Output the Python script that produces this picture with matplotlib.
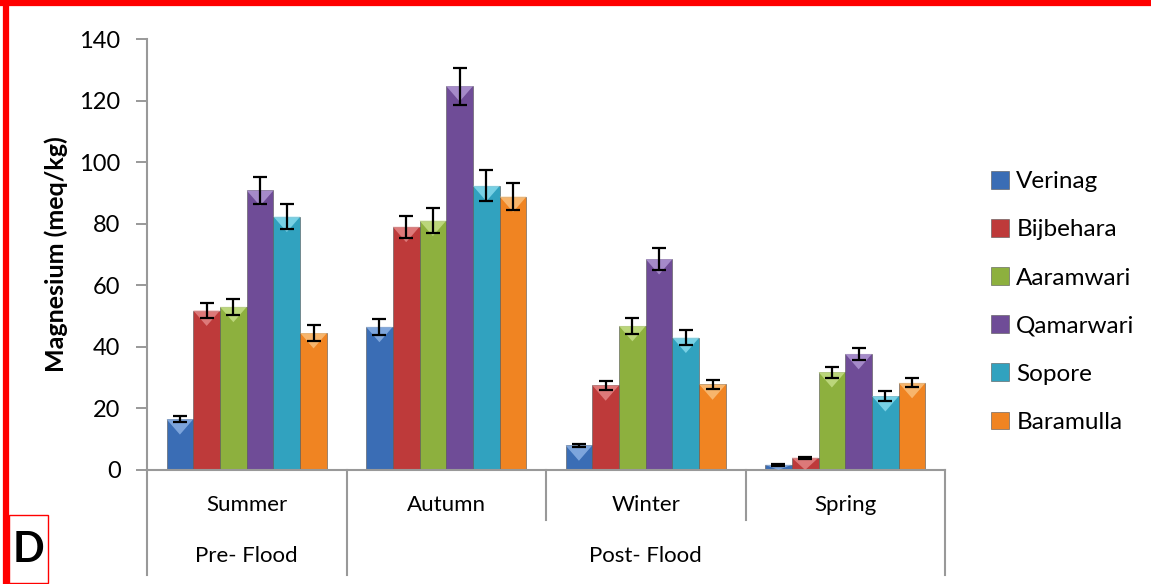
import numpy as np
import matplotlib
matplotlib.use("Agg")
import matplotlib.pyplot as plt
from matplotlib.patches import Rectangle, Polygon
from matplotlib.lines import Line2D

plt.rcParams['font.family'] = ['Lato', 'DejaVu Sans']

# data
seasons = ["Summer", "Autumn", "Winter", "Spring"]
periods = ["Pre- Flood", "Post- Flood"]
sites = ["Verinag", "Bijbehara", "Aaramwari", "Qamarwari", "Sopore", "Baramulla"]

verinag = [16.5, 46.5, 8.0, 1.7]
bijbehara = [51.8, 79.0, 27.5, 4.0]
aaramwari = [53.0, 81.0, 46.8, 31.8]
qamarwari = [90.8, 124.7, 68.5, 37.7]
sopore = [82.3, 92.3, 43.0, 24.0]
baramulla = [44.5, 88.8, 27.8, 28.3]

verinag_err = [1.0, 2.5, 0.5, 0.3]
bijbehara_err = [2.5, 3.5, 1.5, 0.3]
aaramwari_err = [2.5, 4.0, 2.5, 1.8]
qamarwari_err = [4.5, 6.0, 3.5, 2.0]
sopore_err = [4.0, 5.0, 2.5, 1.5]
baramulla_err = [2.5, 4.5, 1.5, 1.5]

values = [verinag, bijbehara, aaramwari, qamarwari, sopore, baramulla]
errors = [verinag_err, bijbehara_err, aaramwari_err, qamarwari_err, sopore_err, baramulla_err]
colors = ['#3A6DB5', '#BE3A3A', '#8DB03E', '#6F4C97', '#31A2BF', '#F08422']
tops = ['#8FB4E6', '#E58A8A', '#C7E08A', '#B39AD6', '#8ADCEE', '#F9C27F']

fig = plt.figure(figsize=(11.51, 5.84), dpi=100)
ax = fig.add_axes([147/1151, 114/584, 798/1151, 431/584])

x = np.arange(len(seasons))
w = 0.134
for i, (v, e) in enumerate(zip(values, errors)):
    pos = x + (i - 2.5) * w
    bars = ax.bar(pos, v, width=w, color=colors[i], edgecolor='#555555',
                  linewidth=0.4, label=sites[i], zorder=2)
    # small bevel triangle at the top of each bar
    for b in bars:
        bx, bw, bh = b.get_x(), b.get_width(), b.get_height()
        d = min(5.0, bh)
        ax.add_patch(Polygon([(bx, bh), (bx + bw, bh), (bx + bw/2, bh - d)],
                             closed=True, color=tops[i], alpha=0.8, zorder=3,
                             linewidth=0))
    ax.errorbar(pos, v, yerr=e, fmt='none', ecolor='black', elinewidth=1.6,
                capsize=5, capthick=1.6, zorder=4)

ax.set_xlim(-0.5, len(seasons) - 0.5)
ax.set_ylim(0, 140)
ax.set_yticks(np.arange(0, 141, 20))
ax.tick_params(axis='y', labelsize=17, color='#888888', length=8, width=1.2, pad=11)
ax.set_xticks([])
for s in ['top', 'right']:
    ax.spines[s].set_visible(False)
for s in ['left', 'bottom']:
    ax.spines[s].set_color('#999999')
    ax.spines[s].set_linewidth(1.5)
ax.set_ylabel("Magnesium (meq/kg)", fontsize=18, fontweight='bold', labelpad=8)

# two-level category axis
tr = ax.get_xaxis_transform()
for b in np.arange(len(seasons) + 1) - 0.5:
    low = -0.244 if b in (-0.5, 0.5, len(seasons) - 0.5) else -0.116
    ax.add_line(Line2D([b, b], [0, low], transform=tr, color='#999999',
                       linewidth=1.5, clip_on=False))
for xi, s in zip(x, seasons):
    ax.text(xi, -0.081, s, transform=tr, ha='center', va='center', fontsize=16)
ax.text(x[0], -0.2, periods[0], transform=tr, ha='center', va='center', fontsize=16)
ax.text(x[1:].mean(), -0.2, periods[1], transform=tr, ha='center', va='center', fontsize=16)

ax.legend(loc='center left', bbox_to_anchor=(1.03, 0.39), frameon=False,
          fontsize=17.5, handlelength=0.75, handleheight=0.75, handletextpad=0.3,
          labelspacing=1.1)

# red frame and panel letter
fig.add_artist(Line2D([0, 1], [1 - 3/584, 1 - 3/584], color='red', linewidth=4.5))
fig.add_artist(Line2D([6/1151, 6/1151], [0, 1], color='red', linewidth=4.5))
fig.add_artist(Rectangle((9/1151, 0.002), 39/1151, 68/584, fill=False,
                         edgecolor='red', linewidth=1))
fig.text(28/1151, 34/584, "D", ha='center', va='center', fontsize=30,
         fontweight='bold')

fig.savefig("out.png", dpi=100)
